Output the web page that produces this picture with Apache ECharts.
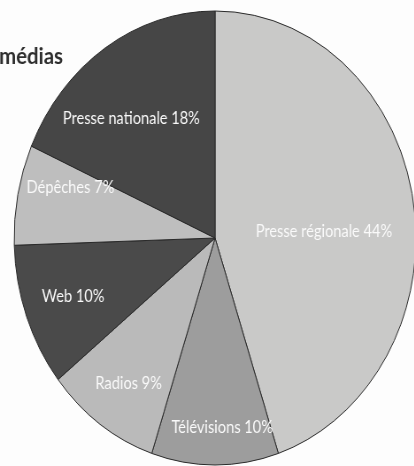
<!DOCTYPE html>
<html><head><meta charset="utf-8">
<script src="https://cdn.jsdelivr.net/npm/echarts@6/dist/echarts.min.js"></script>
<style>
html,body{margin:0;padding:0;background:#fdfdfd;overflow:hidden;width:414px;height:466px;}
#wrap{width:414px;height:466px;overflow:hidden;position:relative;}
#c{width:468px;height:466px;transform:scaleX(0.885);transform-origin:0 0;}
</style></head>
<body><div id="wrap"><div id="c"></div></div>
<script>
const titleText = 'médias';
const categories = ['Presse régionale', 'Télévisions', 'Radios', 'Web', 'Dépêches', 'Presse nationale'];
const values = [44, 10, 9, 10, 7, 18];
const colors = ['#c9c9c8', '#9d9d9d', '#bababa', '#4a4a4a', '#bebebe', '#464646'];
const labelOffsets = [[8, 12], [8, 73], [-31, 50], [-51, 18], [-49, -28], [-31, -22]];

const chart = echarts.init(document.getElementById('c'), null, {renderer: 'canvas'});
chart.setOption({
  backgroundColor: '#fdfdfd',
  animation: false,
  title: {
    text: titleText, left: -6, top: 40,
    textStyle: {fontFamily: 'Lato', fontWeight: 'bold', fontSize: 23, color: '#2e2e2e'}
  },
  series: [{
    type: 'pie',
    center: [243, 238],
    radius: [0, 227],
    startAngle: 90,
    clockwise: true,
    avoidLabelOverlap: false,
    data: categories.map((name, i) => ({
      name, value: values[i],
      itemStyle: {color: colors[i]},
      label: {offset: labelOffsets[i]}
    })),
    itemStyle: {borderColor: '#2a2a2a', borderWidth: 1},
    label: {
      show: true, position: 'inside',
      formatter: p => p.name + ' ' + p.value + '%',
      color: '#fafafa', fontFamily: 'Lato', fontSize: 16.5
    },
    labelLine: {show: false},
    emphasis: {disabled: true}
  }]
});
</script></body></html>
